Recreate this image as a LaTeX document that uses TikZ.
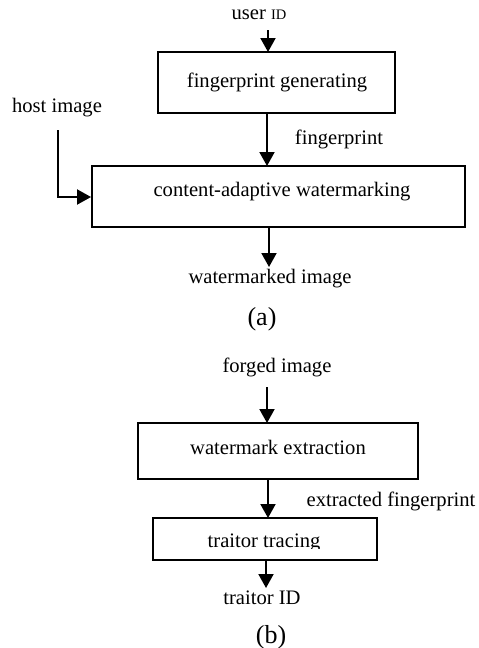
\documentclass[tikz,border=0pt]{standalone}
\usepackage{fontspec}
\setmainfont{Liberation Serif}
\usetikzlibrary{arrows.meta}
\tikzset{
  box/.style={draw, line width=1.9pt, inner sep=0pt},
  lbl/.style={inner sep=0pt, font=\fontsize{20.6}{24}\selectfont},
  sublbl/.style={inner sep=0pt, font=\fontsize{26}{30}\selectfont},
  arr/.style={line width=1.9pt, -{Triangle[length=14pt,width=15pt]}},
}
\begin{document}
\begin{tikzpicture}[x=1pt,y=-1pt]
\useasboundingbox (0,0) rectangle (479,648);
% (a)
\node[lbl] (uid) at (259,15) {user {\fontsize{14.5}{16}\selectfont ID}};
\coordinate (uidt) at (268,30);
\node[box, minimum width=237pt, minimum height=61pt] (fg) at (276.5,82.5) {};
\node[lbl] at (277,82) {fingerprint generating};
\node[lbl] (host) at (57,108) {host image};
\coordinate (hostt) at (58,130);
\node[box, minimum width=373pt, minimum height=61pt] (cw) at (278.5,196.5) {};
\node[lbl] at (282,192) {content-adaptive watermarking};
\node[lbl] (fpl) at (339,139) {fingerprint};
\node[lbl] (wmi) at (270,279) {watermarked image};
\node[sublbl] (ca) at (262,319) {(a)};
\draw[arr] (uidt) -- (268,52);
\draw[arr] (267,113) -- (267,166);
\draw[arr] (hostt) |- (cw.west |- 0,197);
\draw[arr] (269,227) -- (269,267);
% (b)
\node[lbl] (fi) at (277,367) {forged image};
\coordinate (fit) at (267,387);
\node[box, minimum width=280pt, minimum height=56pt] (we) at (278,451) {};
\node[lbl] at (278,447) {watermark extraction};
\node[lbl] (efl) at (391,501) {extracted fingerprint};
\node[box, minimum width=224pt, minimum height=42pt] (tt) at (265,539) {};
\begin{scope}
\clip (153,520) rectangle (377,548.5);
\node[lbl] at (264,543) {traitor tracing};
\end{scope}
\node[lbl] (tid) at (262,598) {traitor ID};
\node[sublbl] (cb) at (271,637) {(b)};
\draw[arr] (fit) -- (267,423);
\draw[arr] (268,479) -- (268,518);
\draw[arr] (266,560) -- (266,588);
\end{tikzpicture}
\end{document}
